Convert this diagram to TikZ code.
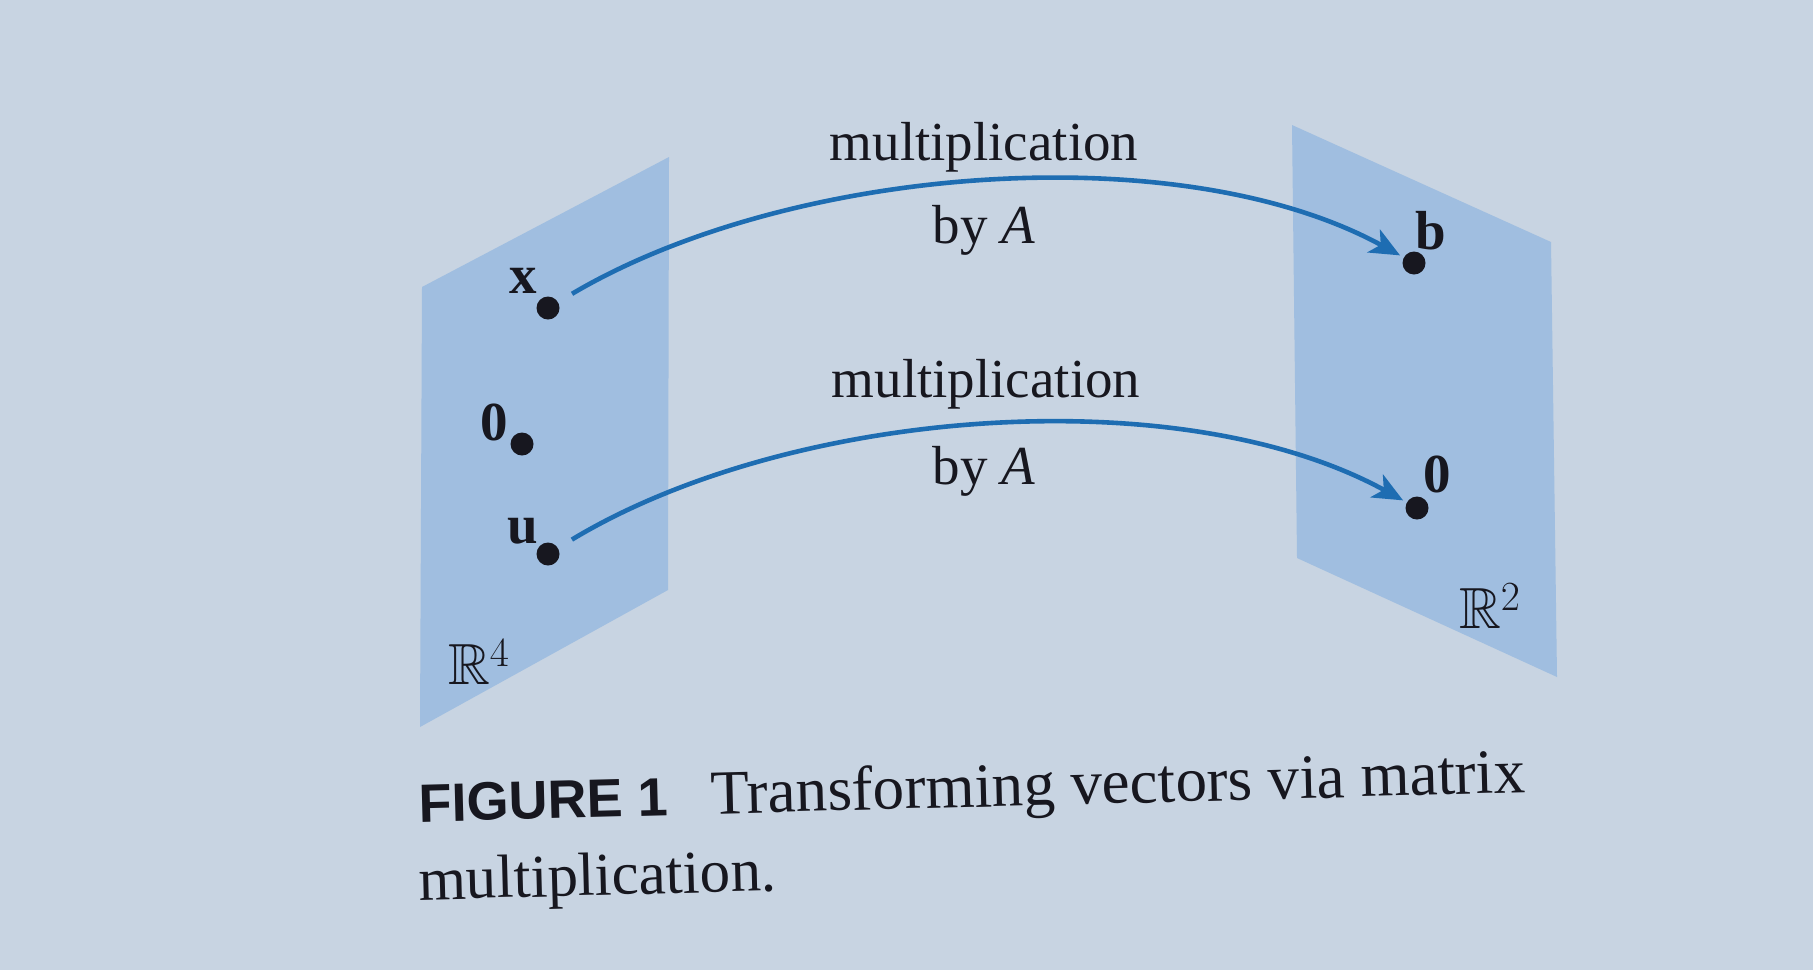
\documentclass[tikz,border=0pt]{standalone}
\usepackage{amsmath,amssymb}
\usepackage{fontspec}
\setmainfont{Liberation Serif}
\newfontfamily\capsans{Liberation Sans}
\usetikzlibrary{arrows.meta}
\definecolor{pagebg}{HTML}{C8D4E2}
\definecolor{panelblue}{HTML}{A0BEE0}
\definecolor{arrowblue}{HTML}{1E6DB2}
\definecolor{ink}{HTML}{17171F}
\tikzset{
  dot/.style={circle, fill=ink, inner sep=0pt, minimum size=11.5pt},
  vlabel/.style={inner sep=0pt, text=ink, font=\fontsize{27.5}{30}\selectfont\bfseries},
  lbl/.style={inner sep=0pt, text=ink, font=\fontsize{27.5}{30}\selectfont},
  spacelbl/.style={inner sep=0pt, text=ink, font=\fontsize{29}{30}\selectfont},
  capt/.style={inner sep=0pt, text=ink, font=\fontsize{30.5}{36}\selectfont},
  conn/.style={draw=arrowblue, line width=2.3pt,
    -{Stealth[length=15pt,width=13pt,inset=4pt]},
    shorten <=8pt, shorten >=2pt},
  panel/.style={fill=panelblue}
}
\begin{document}
\begin{tikzpicture}[x=0.5pt,y=-0.5pt]
\fill[pagebg] (0,0) rectangle (1813,970);
\useasboundingbox (0,0) rectangle (1813,970);
% panels
\fill[panel] (422,287) -- (669,157) -- (668,590) -- (420,727) -- cycle;
\fill[panel] (1292,125) -- (1551,242) -- (1557,677) -- (1297,558) -- cycle;
% points in R^4
\node[dot] (x) at (548,308) {};
\node[dot] (z1) at (522,444) {};
\node[dot] (u) at (548,554) {};
\node[vlabel] (xl) at (523,281) {x};
\node[vlabel] (z1l) at (494,422) {0};
\node[vlabel] (ul) at (523,531) {u};
\node[spacelbl] (r4) at (479,662) {$\mathbb{R}^4$};
% points in R^2
\node[dot] (b) at (1414,263) {};
\node[dot] (z2) at (1417,508) {};
\node[vlabel] (bl) at (1431,231) {b};
\node[vlabel] (z2l) at (1437,474) {0};
\node[spacelbl] (r2) at (1490,606) {$\mathbb{R}^2$};
% arrows
\draw[conn] (x) .. controls (790,165) and (1180,135) .. (b);
\draw[conn] (u) .. controls (790,408) and (1180,378) .. (z2);
% arrow labels
\node[lbl, anchor=base] (m1) at (984,160) {multiplication};
\node[lbl, anchor=base] (b1) at (984,243) {by \textit{A}};
\node[lbl, anchor=base] (m2) at (986,397) {multiplication};
\node[lbl, anchor=base] (b2) at (984,484) {by \textit{A}};
% caption
\node[inner sep=0pt, text=ink, anchor=base west, rotate=1.5, font=\fontsize{27}{30}\selectfont\capsans\bfseries] (fig) at (419,822) {FIGURE 1};
\node[capt, anchor=base west, rotate=1.5, font=\fontsize{31.5}{36}\selectfont] (cap1) at (711,814) {Transforming vectors via matrix};
\node[capt, anchor=base west, rotate=1.5] (cap2) at (419,900) {multiplication.};
\end{tikzpicture}
\end{document}
